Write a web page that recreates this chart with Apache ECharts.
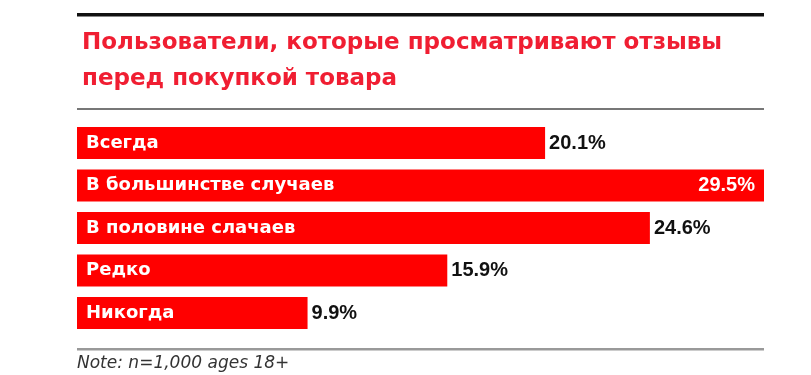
<!DOCTYPE html>
<html>
<head>
<meta charset="utf-8">
<script src="https://cdn.jsdelivr.net/npm/echarts@6/dist/echarts.min.js"></script>
<style>
  html, body { margin: 0; padding: 0; background: #fff; }
  #chart { width: 811px; height: 375px; }
</style>
</head>
<body>
<div id="chart"></div>
<script>
// категории и доли пользователей
const categories = ['Всегда', 'В большинстве случаев', 'В половине слачаев', 'Редко', 'Никогда']
const shares = [20.1, 29.5, 24.6, 15.9, 9.9]
const titleText = 'Пользователи, которые просматривают отзывы\nперед покупкой товара'
const noteText = 'Note: n=1,000 ages 18+'

const maxShare = Math.max(...shares)

const mychart = echarts.init(document.getElementById('chart'))
const option = {
  animation: false,
  title: {
    text: titleText,
    left: 77,
    top: 20,
    textStyle: {
      color: '#f01e32',
      fontFamily: 'DejaVu Sans',
      fontWeight: 'bold',
      fontSize: 23,
      lineHeight: 36
    }
  },
  graphic: [
    // верхняя чёрная линия
    { type: 'rect', shape: { x: 77, y: 13, width: 687, height: 3.5 }, style: { fill: '#111' } },
    // серая линия под заголовком
    { type: 'rect', shape: { x: 77, y: 108, width: 687, height: 2 }, style: { fill: '#777' } },
    // нижняя линия
    { type: 'rect', shape: { x: 77, y: 348, width: 687, height: 2.5 }, style: { fill: '#999' } },
    {
      type: 'text',
      left: 77,
      top: 355,
      style: {
        text: noteText,
        fill: '#333',
        font: 'oblique 17px "DejaVu Sans"'
      }
    }
  ],
  grid: {
    left: 77,
    right: 47,
    top: 121.75,
    bottom: 40.75
  },
  xAxis: {
    type: 'value',
    min: 0,
    max: maxShare,
    show: false
  },
  yAxis: {
    type: 'category',
    data: categories,
    inverse: true,
    z: 10,
    axisLine: { show: false },
    axisTick: { show: false },
    axisLabel: {
      inside: true,
      margin: 9,
      color: '#fff',
      fontFamily: 'DejaVu Sans',
      fontWeight: 'bold',
      fontSize: 18
    }
  },
  series: [
    {
      type: 'bar',
      barWidth: 32,
      itemStyle: { color: '#ff0000' },
      label: {
        show: true,
        position: 'right',
        distance: 4,
        color: '#111',
        fontFamily: 'Liberation Sans',
        fontWeight: 'bold',
        fontSize: 20,
        formatter: p => p.value.toFixed(1) + '%'
      },
      data: shares.map(v => v === maxShare
        ? { value: v, label: { position: 'insideRight', distance: 9, color: '#fff' } }
        : v)
    }
  ]
}
mychart.setOption(option)
</script>
</body>
</html>
